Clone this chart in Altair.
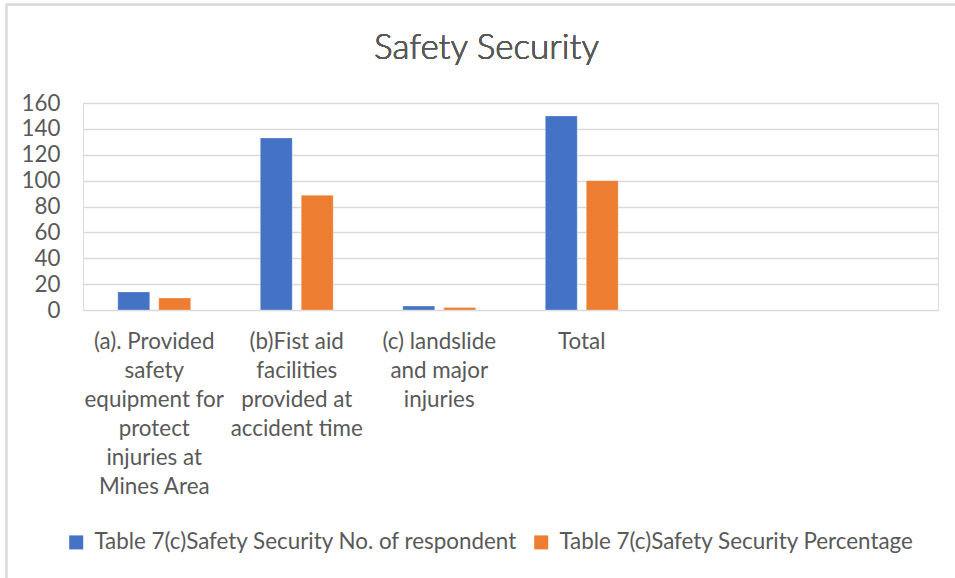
import altair as alt
import pandas as pd

# Category labels ("|" marks a line break); the last two slots are empty columns
categories = [
    "(a). Provided|safety|equipment for|protect|injuries at|Mines Area",
    "(b)Fist aid|facilities|provided at|accident time",
    "(c) landslide|and major|injuries",
    "Total",
    " ",
    "  ",
]
series = [
    "Table 7(c)Safety Security No. of respondent",
    "Table 7(c)Safety Security Percentage",
]
respondents = [14, 133, 3, 150]
percentage = [9.33, 88.67, 2, 100]
colors = ["#4472C4", "#ED7D31"]
title_text = "Safety Security"

rows = []
for cat, n, p in zip(categories, respondents, percentage):
    rows.append({"category": cat, "series": series[0], "value": n})
    rows.append({"category": cat, "series": series[1], "value": p})
df = pd.DataFrame(rows)

FONT = "Lato"
TEXT = "#595959"
GRID = "#d9d9d9"
FS = 22.4

bars = alt.Chart(df).mark_bar(stroke="white", strokeWidth=0.6, strokeOpacity=0.5).encode(
    x=alt.X(
        "category:N",
        sort=categories,
        scale=alt.Scale(domain=categories, paddingInner=0, paddingOuter=0),
        axis=alt.Axis(
            title=None,
            labelAngle=0,
            labelExpr="split(datum.label, '|')",
            labelBaseline="top",
            labelAlign="center",
            labelPadding=20,
            labelLineHeight=29,
            labelLimit=300,
            labelFontSize=FS,
            labelColor=TEXT,
            labelFont=FONT,
            ticks=False,
            domain=False,
            grid=False,
        ),
    ),
    xOffset=alt.XOffset(
        "series:N",
        sort=series,
        scale=alt.Scale(domain=series, paddingInner=0.22, paddingOuter=0.85),
    ),
    y=alt.Y(
        "value:Q",
        scale=alt.Scale(domain=[0, 160], nice=False),
        axis=alt.Axis(
            title=None,
            values=[0, 20, 40, 60, 80, 100, 120, 140, 160],
            labelFontSize=FS,
            labelColor=TEXT,
            labelFont=FONT,
            labelPadding=23,
            ticks=False,
            domain=False,
            gridColor=GRID,
            gridWidth=1.4,
        ),
    ),
    color=alt.Color(
        "series:N",
        sort=series,
        scale=alt.Scale(domain=series, range=colors),
        legend=alt.Legend(
            title=None,
            orient="none",
            direction="horizontal",
            legendX=-18,
            legendY=428,
            symbolType="square",
            symbolSize=196,
            symbolStrokeWidth=0,
            labelFontSize=FS,
            labelColor=TEXT,
            labelFont=FONT,
            labelOffset=7,
            columnPadding=12,
            labelLimit=600,
        ),
    ),
)

# Chart title, centred a little left of the plot's middle
title = alt.Chart(df).mark_text(
    font=FONT, fontSize=35, fontWeight=300, color=TEXT, align="center", baseline="alphabetic"
).encode(x=alt.value(403.5), y=alt.value(-44.5), text=alt.value(title_text))

# Thin frame lines along the top and left edges of the chart area
top_edge = alt.Chart(df).mark_rule(color=GRID, strokeWidth=1.3).encode(
    x=alt.value(-77), x2=alt.value(880), y=alt.value(-98.5)
)
left_edge = alt.Chart(df).mark_rule(color=GRID, strokeWidth=1.3).encode(
    x=alt.value(-76.5), y=alt.value(-99), y2=alt.value(480)
)

chart = (
    alt.layer(top_edge, left_edge, title, bars)
    .properties(
        width=855,
        height=207,
        autosize=alt.AutoSizeParams(type="none"),
        padding={"left": 83, "top": 103, "right": 17, "bottom": 268},
    )
    .configure_view(stroke=None)
    .configure(background="white")
)

chart.save("out.html", embed_options={"renderer": "svg", "actions": False})
